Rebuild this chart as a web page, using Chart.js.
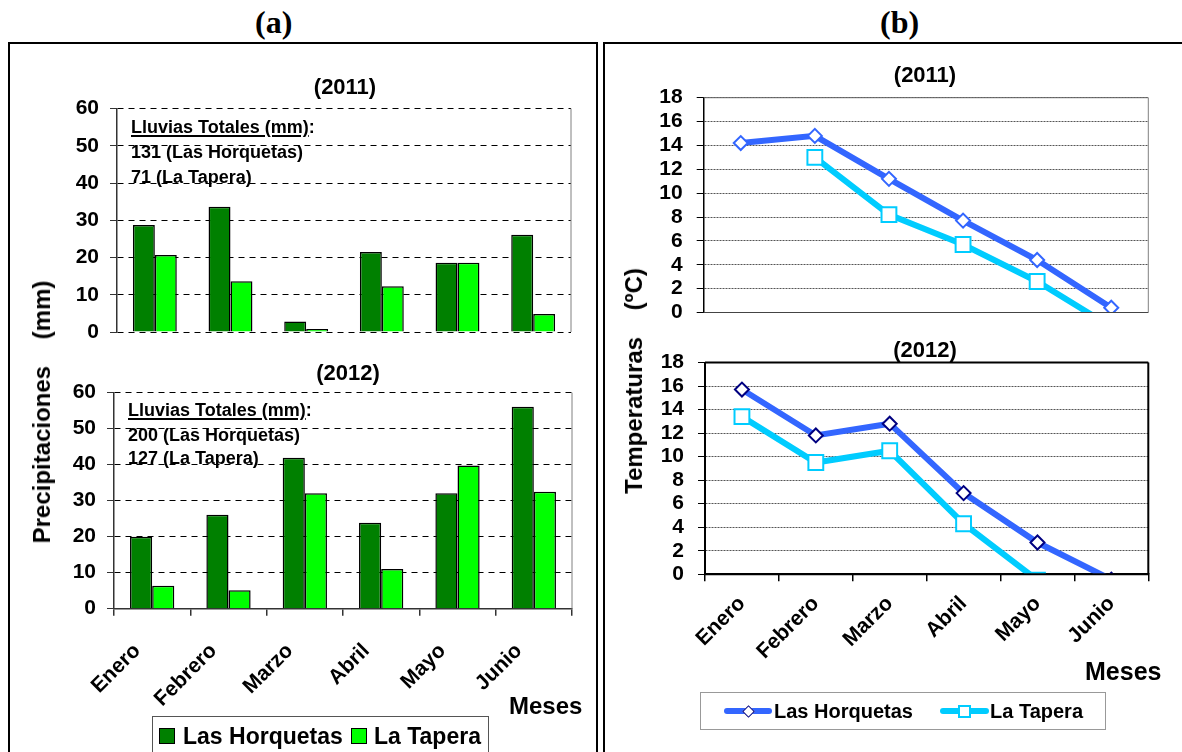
<!DOCTYPE html>
<html><head><meta charset="utf-8">
<script src="https://cdn.jsdelivr.net/npm/chart.js@4"></script>
<style>
body{margin:0;width:1182px;height:752px;overflow:hidden;background:#fff;position:relative;font-family:'Liberation Sans',Arial,sans-serif;color:#000}
.panel{position:absolute;border:2px solid #000;box-sizing:border-box}
.t{position:absolute;font-weight:bold;white-space:pre;line-height:1}
canvas{position:absolute}
.rot{position:absolute;font-weight:bold;white-space:pre;line-height:1;transform:translate(-50%,-50%) rotate(-90deg);font-size:24px}
.ul{text-decoration:underline;text-decoration-thickness:2px;text-underline-offset:2px}
</style></head><body>
<div class="panel" style="left:8px;top:42px;width:590px;height:740px"></div>
<div class="panel" style="left:603px;top:42px;width:600px;height:740px"></div>
<div class="t" style="left:255px;top:6px;font-family:'Liberation Serif',serif;font-size:32px">(a)</div>
<div class="t" style="left:880px;top:6px;font-family:'Liberation Serif',serif;font-size:32px">(b)</div>

<canvas id="cA1" width="540" height="250" style="left:50px;top:95px"></canvas>
<canvas id="cA2" width="540" height="340" style="left:50px;top:380px"></canvas>
<canvas id="cB1" width="520" height="240" style="left:645px;top:85px"></canvas>
<canvas id="cB2" width="520" height="310" style="left:645px;top:350px"></canvas>

<div class="t" style="left:345px;top:75.5px;font-size:22px;transform:translateX(-50%)">(2011)</div>
<div class="t" style="left:348px;top:361.5px;font-size:22px;transform:translateX(-50%)">(2012)</div>
<div class="t" style="left:925px;top:64px;font-size:22px;transform:translateX(-50%)">(2011)</div>
<div class="t" style="left:925px;top:339px;font-size:22px;transform:translateX(-50%)">(2012)</div>

<div class="t" style="left:131px;top:117.7px;font-size:18px"><span class="ul">Lluvias Totales (mm)</span>:</div>
<div class="t" style="left:131px;top:142.7px;font-size:18px">131 (Las Horquetas)</div>
<div class="t" style="left:131px;top:167.7px;font-size:18px">71 (La Tapera)</div>
<div class="t" style="left:128px;top:400.7px;font-size:18px"><span class="ul">Lluvias Totales (mm)</span>:</div>
<div class="t" style="left:128px;top:425.7px;font-size:18px">200 (Las Horquetas)</div>
<div class="t" style="left:128px;top:449.4px;font-size:18px">127 (La Tapera)</div>

<div class="rot" style="left:42px;top:412px">Precipitaciones    (mm)</div>
<div class="rot" style="left:634px;top:381px">Temperaturas    (ºC)</div>

<div class="t" style="left:509px;top:694px;font-size:24px">Meses</div>
<div class="t" style="left:1085px;top:659px;font-size:25px">Meses</div>

<div style="position:absolute;left:152px;top:716px;width:337px;height:60px;border:1px solid #555;box-sizing:border-box"></div>
<div style="position:absolute;left:159px;top:728px;width:16px;height:16px;background:#008000;border:1px solid #000;box-sizing:border-box"></div>
<div class="t" style="left:183px;top:725px;font-size:23px">Las Horquetas</div>
<div style="position:absolute;left:351px;top:728px;width:16px;height:16px;background:#00FF00;border:1px solid #000;box-sizing:border-box"></div>
<div class="t" style="left:374px;top:725px;font-size:23px">La Tapera</div>

<div style="position:absolute;left:700px;top:692px;width:406px;height:38px;border:1px solid #999;box-sizing:border-box"></div>
<div style="position:absolute;left:724px;top:708px;width:48px;height:6px;background:#3366FF;border-radius:3px"></div>
<div style="position:absolute;left:743.5px;top:706.5px;width:9px;height:9px;background:#fff;border:1.5px solid #000080;box-sizing:border-box;transform:rotate(45deg)"></div>
<div class="t" style="left:774px;top:700.7px;font-size:20px">Las Horquetas</div>
<div style="position:absolute;left:940px;top:708px;width:49px;height:6px;background:#00CCFF;border-radius:3px"></div>
<div style="position:absolute;left:958px;top:704.5px;width:13px;height:13px;background:#fff;border:2px solid #00CCFF;box-sizing:border-box"></div>
<div class="t" style="left:990px;top:700.7px;font-size:20px">La Tapera</div>

<script>
// ---- data ----
const months = ['Enero', 'Febrero', 'Marzo', 'Abril', 'Mayo', 'Junio'];
const seriesNames = ['Las Horquetas', 'La Tapera'];
const rain2011Horquetas = [28.7, 33.6, 2.8, 21.5, 18.6, 26.1];
const rain2011Tapera = [20.7, 13.6, 0.8, 12.3, 18.6, 4.8];
const rain2012Horquetas = [20.0, 26.1, 41.9, 23.9, 32.1, 56.1];
const rain2012Tapera = [6.4, 5.1, 32.1, 11.0, 39.8, 32.5];
const temp2011Horquetas = [14.2, 14.8, 11.2, 7.7, 4.4, 0.4];
const temp2011Tapera = [null, 13.0, 8.2, 5.7, 2.6, -1.2];
const temp2012Horquetas = [15.7, 11.8, 12.8, 6.9, 2.7, -0.45];
const temp2012Tapera = [13.4, 9.5, 10.5, 4.3, -0.5, -3.0];
const rainAxis = {min: 0, max: 60, step: 10};
const tempAxis = {min: 0, max: 18, step: 2};

Chart.defaults.font.family = "'Liberation Sans', Arial, sans-serif";
Chart.defaults.font.weight = 'bold';
Chart.defaults.color = '#000';

const framePlugin = {
  id: 'frame',
  afterDatasetsDraw(chart, args, o) {
    const {ctx, chartArea: a} = chart;
    const sides = {
      top: [a.left, a.top, a.right, a.top],
      right: [a.right, a.top, a.right, a.bottom],
      bottom: [a.left, a.bottom, a.right, a.bottom],
      left: [a.left, a.top, a.left, a.bottom]
    };
    for (const k of Object.keys(sides)) {
      const s = o[k];
      if (!s) continue;
      const p = sides[k];
      ctx.save();
      ctx.strokeStyle = s.color; ctx.lineWidth = s.width;
      ctx.beginPath(); ctx.moveTo(p[0], p[1]); ctx.lineTo(p[2], p[3]); ctx.stroke();
      ctx.restore();
    }
  }
};
Chart.register(framePlugin);

function fixY(w) { return s => { s.width = w; s.paddingTop = 0; s.paddingBottom = 0; s.paddingLeft = 0; s.paddingRight = 0; }; }
function fixX(h) { return s => { s.height = h; s.paddingTop = 0; s.paddingBottom = 0; s.paddingLeft = 0; s.paddingRight = 0; }; }

const base = {responsive: false, devicePixelRatio: 1, animation: false, events: []};

function rainY(width) {
  return {
    min: rainAxis.min, max: rainAxis.max,
    ticks: {stepSize: rainAxis.step, autoSkip: false, padding: 11, font: {size: 21, weight: 'bold'}, color: '#000'},
    grid: {color: '#000', lineWidth: 1, tickLength: 7, tickColor: '#333', tickBorderDash: []},
    border: {display: true, color: '#333', width: 1.5, dash: [6, 5]},
    afterFit: fixY(width)
  };
}
function rainSets(h, t) {
  return [
    {label: seriesNames[0], data: h, backgroundColor: '#008000', borderColor: '#000', borderWidth: 1.5, categoryPercentage: 0.58, barPercentage: 1},
    {label: seriesNames[1], data: t, backgroundColor: '#00FF00', borderColor: '#000', borderWidth: 1.5, categoryPercentage: 0.58, barPercentage: 1}
  ];
}

new Chart(document.getElementById('cA1'), {
  type: 'bar',
  data: {labels: months, datasets: rainSets(rain2011Horquetas, rain2011Tapera)},
  options: Object.assign({}, base, {
    layout: {padding: {left: 0, top: 13.5, right: 19, bottom: 13}},
    plugins: {legend: {display: false}, tooltip: {enabled: false},
      frame: {right: {color: '#808080', width: 1}}},
    scales: {x: {display: false}, y: rainY(67)}
  })
});

new Chart(document.getElementById('cA2'), {
  type: 'bar',
  data: {labels: months, datasets: rainSets(rain2012Horquetas, rain2012Tapera)},
  options: Object.assign({}, base, {
    layout: {padding: {left: 0, top: 12.7, right: 18, bottom: 0}},
    plugins: {legend: {display: false}, tooltip: {enabled: false},
      frame: {right: {color: '#808080', width: 1}}},
    scales: {
      x: {
        grid: {offset: true, drawOnChartArea: false, drawTicks: true, tickLength: 7, color: '#333', lineWidth: 1.5},
        border: {display: true, color: '#333', width: 1.5},
        ticks: {minRotation: 45, maxRotation: 45, padding: 23, labelOffset: -15, autoSkip: false, font: {size: 21, weight: 'bold'}, color: '#000'},
        afterFit: fixX(111.3)
      },
      y: rainY(64)
    }
  })
});

function tempY(width, gridColor) {
  return {
    min: tempAxis.min, max: tempAxis.max,
    ticks: {stepSize: tempAxis.step, autoSkip: false, padding: 14, font: {size: 21, weight: 'bold'}, color: '#000'},
    grid: {color: gridColor, lineWidth: 1, tickLength: 7, tickColor: '#000'},
    border: {display: true, color: '#000', width: 1.5, dash: [2, 1]},
    afterFit: fixY(width)
  };
}
function tempSets(h, t, diamondBorder) {
  return [
    {label: seriesNames[0], data: h, borderColor: '#3366FF', borderWidth: 6, tension: 0,
     pointStyle: 'rectRot', pointRadius: 7, pointBackgroundColor: '#fff', pointBorderColor: diamondBorder, pointBorderWidth: 2},
    {label: seriesNames[1], data: t, borderColor: '#00CCFF', borderWidth: 6, tension: 0, spanGaps: false,
     pointStyle: 'rect', pointRadius: 10.5, pointBackgroundColor: '#fff', pointBorderColor: '#00CCFF', pointBorderWidth: 2}
  ];
}

new Chart(document.getElementById('cB1'), {
  type: 'line',
  data: {labels: months, datasets: tempSets(temp2011Horquetas, temp2011Tapera, '#3366FF')},
  options: Object.assign({}, base, {
    layout: {padding: {left: 0, top: 12.7, right: 16.7, bottom: 11.7}},
    plugins: {legend: {display: false}, tooltip: {enabled: false},
      frame: {top: {color: '#666', width: 1}, right: {color: '#808080', width: 1}, bottom: {color: '#444', width: 1}}},
    scales: {x: {display: false, offset: true}, y: tempY(58.7, '#555')}
  })
});

new Chart(document.getElementById('cB2'), {
  type: 'line',
  data: {labels: months, datasets: tempSets(temp2012Horquetas, temp2012Tapera, '#000080')},
  options: Object.assign({}, base, {
    layout: {padding: {left: 0, top: 12.3, right: 16.7, bottom: 0}},
    plugins: {legend: {display: false}, tooltip: {enabled: false},
      frame: {top: {color: '#000', width: 2}, right: {color: '#000', width: 2}, bottom: {color: '#000', width: 2}, left: {color: '#000', width: 2}}},
    scales: {
      x: {
        offset: true,
        grid: {offset: true, drawOnChartArea: false, drawTicks: true, tickLength: 7, color: '#000', lineWidth: 1.5},
        border: {display: true, color: '#000', width: 2},
        ticks: {minRotation: 45, maxRotation: 45, padding: 10, labelOffset: 0, autoSkip: false, font: {size: 21, weight: 'bold'}, color: '#000'},
        afterFit: fixX(85.7)
      },
      y: tempY(60, '#555')
    }
  })
});
</script>
</body></html>
